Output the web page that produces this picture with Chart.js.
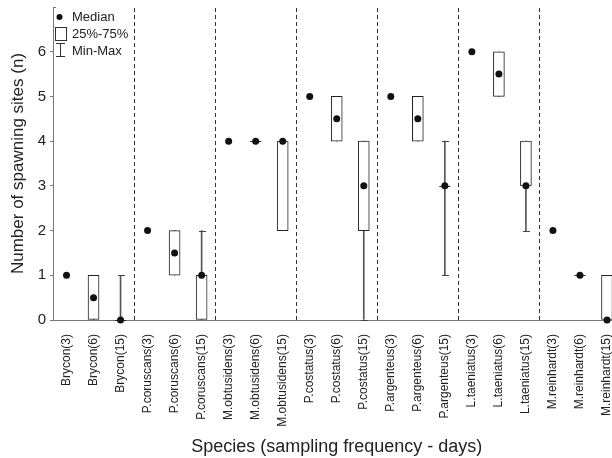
<!DOCTYPE html>
<html>
<head>
<meta charset="utf-8">
<script src="https://cdn.jsdelivr.net/npm/chart.js@4.4.0/dist/chart.umd.min.js"></script>
<style>
  html, body { margin: 0; padding: 0; background: #fff; overflow: hidden; }
  canvas { display: block; }
</style>
</head>
<body>
<canvas id="chart_sites" width="624" height="458"></canvas>
<script>
const labels = ['Brycon(3)', 'Brycon(6)', 'Brycon(15)',
    'P.coruscans(3)', 'P.coruscans(6)', 'P.coruscans(15)',
    'M.obtusidens(3)', 'M.obtusidens(6)', 'M.obtusidens(15)',
    'P.costatus(3)', 'P.costatus(6)', 'P.costatus(15)',
    'P.argenteus(3)', 'P.argenteus(6)', 'P.argenteus(15)',
    'L.taeniatus(3)', 'L.taeniatus(6)', 'L.taeniatus(15)',
    'M.reinhardt(3)', 'M.reinhardt(6)', 'M.reinhardt(15)']

const median = [1, 0.5, 0, 2, 1.5, 1, 4, 4, 4, 5, 4.5, 3, 5, 4.5, 3, 6, 5.5, 3, 2, 1, 0]
const q1 = [null, 0, 0, null, 1, 0, null, 4, 2, null, 4, 2, null, 4, 3, null, 5, 3, null, 1, 0]
const q3 = [null, 1, 0, null, 2, 1, null, 4, 4, null, 5, 4, null, 5, 3, null, 6, 4, null, 1, 1]
const minV = [null, 0, 0, null, 1, 0, null, 4, 2, null, 4, 0, null, 4, 1, null, 5, 2, null, 1, 0]
const maxV = [null, 1, 1, null, 2, 2, null, 4, 4, null, 5, 4, null, 5, 4, null, 6, 4, null, 1, 1]

const font = "'Liberation Sans', Arial, sans-serif"
const BOX_W = 11
const CAP_W = 7

// boxes only where q1 < q3, collapsed ones are drawn as a flat line
const boxData = q1.map((v, i) => (v !== null && v < q3[i]) ? [v, q3[i]] : null)
const whiskerData = minV.map((v, i) => (v !== null && v < maxV[i]) ? [v, maxV[i]] : null)

const boxExtras = {
    id: 'boxExtras',
    beforeDatasetsDraw(chart) {
        // dashed separators between species
        const { ctx, chartArea, scales: { x } } = chart
        ctx.save()
        ctx.strokeStyle = '#333'
        ctx.lineWidth = 1
        ctx.setLineDash([4, 3])
        for (let i = 3; i < labels.length; i += 3) {
            const px = Math.round((x.getPixelForValue(i - 1) + x.getPixelForValue(i)) / 2) + 0.5
            ctx.beginPath()
            ctx.moveTo(px, chartArea.top + 1)
            ctx.lineTo(px, chartArea.bottom)
            ctx.stroke()
        }
        ctx.restore()
    },
    afterDatasetDraw(chart, args) {
        if (args.index !== 0) return
        const { ctx, scales: { x, y } } = chart
        ctx.save()
        ctx.lineWidth = 1
        // whisker caps
        ctx.strokeStyle = '#444'
        labels.forEach((_, i) => {
            if (whiskerData[i] === null) return
            const cx = Math.round(x.getPixelForValue(i)) + 0.5
            const ends = []
            if (minV[i] < q1[i]) ends.push(minV[i])
            if (maxV[i] > q3[i]) ends.push(maxV[i])
            ends.forEach(v => {
                const py = Math.round(y.getPixelForValue(v)) + 0.5
                ctx.beginPath()
                ctx.moveTo(cx - CAP_W / 2, py)
                ctx.lineTo(cx + CAP_W / 2, py)
                ctx.stroke()
            })
        })
        // collapsed boxes
        ctx.strokeStyle = '#222'
        labels.forEach((_, i) => {
            if (q1[i] === null || q1[i] !== q3[i]) return
            const cx = x.getPixelForValue(i)
            const py = Math.round(y.getPixelForValue(q1[i])) + 0.5
            ctx.beginPath()
            ctx.moveTo(cx - BOX_W / 2, py)
            ctx.lineTo(cx + BOX_W / 2, py)
            ctx.stroke()
        })
        ctx.restore()
    },
    afterDraw(chart) {
        const { ctx, chartArea, scales: { y } } = chart
        ctx.save()
        // small inward mark at the top of the y axis
        ctx.strokeStyle = '#777'
        ctx.lineWidth = 1
        const ty = Math.round(y.getPixelForValue(7)) + 0.5
        ctx.beginPath()
        ctx.moveTo(chartArea.left, ty)
        ctx.lineTo(chartArea.left + 3, ty)
        ctx.stroke()

        // legend
        ctx.fillStyle = '#111'
        ctx.beginPath()
        ctx.arc(59.5, 17, 3, 0, Math.PI * 2)
        ctx.fill()

        ctx.strokeStyle = '#333'
        ctx.strokeRect(55.5, 27.5, 11, 13)

        ctx.beginPath()
        ctx.moveTo(60.5, 43)
        ctx.lineTo(60.5, 57)
        ctx.moveTo(56, 43.5)
        ctx.lineTo(65, 43.5)
        ctx.moveTo(56, 56.5)
        ctx.lineTo(65, 56.5)
        ctx.stroke()

        ctx.fillStyle = '#222'
        ctx.font = `13px ${font}`
        ctx.textBaseline = 'middle'
        ctx.fillText('Median', 72, 17)
        ctx.fillText('25%-75%', 72, 34)
        ctx.fillText('Min-Max', 72, 51)
        ctx.restore()
    }
}

new Chart(document.getElementById('chart_sites'), {
    type: 'bar',
    data: {
        labels: labels,
        datasets: [
            {
                // min-max whiskers
                data: whiskerData,
                backgroundColor: '#555',
                borderWidth: 0,
                barThickness: 1,
                grouped: false,
                order: 2
            },
            {
                // 25%-75% boxes
                data: boxData,
                backgroundColor: '#fff',
                borderColor: '#222',
                borderWidth: 1,
                borderSkipped: false,
                barThickness: BOX_W,
                grouped: false,
                order: 1
            },
            {
                type: 'line',
                data: median,
                showLine: false,
                pointRadius: 3.5,
                pointHoverRadius: 3.5,
                pointBackgroundColor: '#111',
                pointBorderWidth: 0,
                clip: false,
                order: 0
            }
        ]
    },
    options: {
        responsive: false,
        animation: false,
        layout: {
            padding: { top: 7, right: 0, left: 0, bottom: 0 }
        },
        plugins: {
            legend: { display: false },
            tooltip: { enabled: false }
        },
        scales: {
            x: {
                offset: true,
                grid: { display: false },
                border: { color: '#777', width: 1 },
                ticks: {
                    autoSkip: false,
                    minRotation: 90,
                    maxRotation: 90,
                    padding: 6,
                    color: '#222',
                    font: { family: font, size: 12 }
                },
                title: {
                    display: true,
                    text: 'Species (sampling frequency - days)',
                    color: '#222',
                    font: { family: font, size: 18 },
                    padding: { top: 0, bottom: 0 }
                },
                afterFit: (scale) => {
                    scale.height = 138
                    scale.paddingLeft = 0
                    scale.paddingRight = 0
                }
            },
            y: {
                min: 0,
                max: 7,
                grid: { drawOnChartArea: false, tickLength: 3, color: '#777' },
                border: { color: '#777', width: 1 },
                ticks: {
                    stepSize: 1,
                    padding: 4,
                    color: '#222',
                    font: { family: font, size: 15 }
                },
                afterBuildTicks: (scale) => {
                    scale.ticks = scale.ticks.filter(t => t.value < 7)
                },
                title: {
                    display: true,
                    text: 'Number of spawning sites (n)',
                    color: '#222',
                    font: { family: font, size: 17 },
                    padding: { top: 8, bottom: 0 }
                },
                afterFit: (scale) => {
                    scale.width = 53
                    scale.paddingTop = 0
                    scale.paddingBottom = 0
                }
            }
        }
    },
    plugins: [boxExtras]
});
</script>
</body>
</html>
